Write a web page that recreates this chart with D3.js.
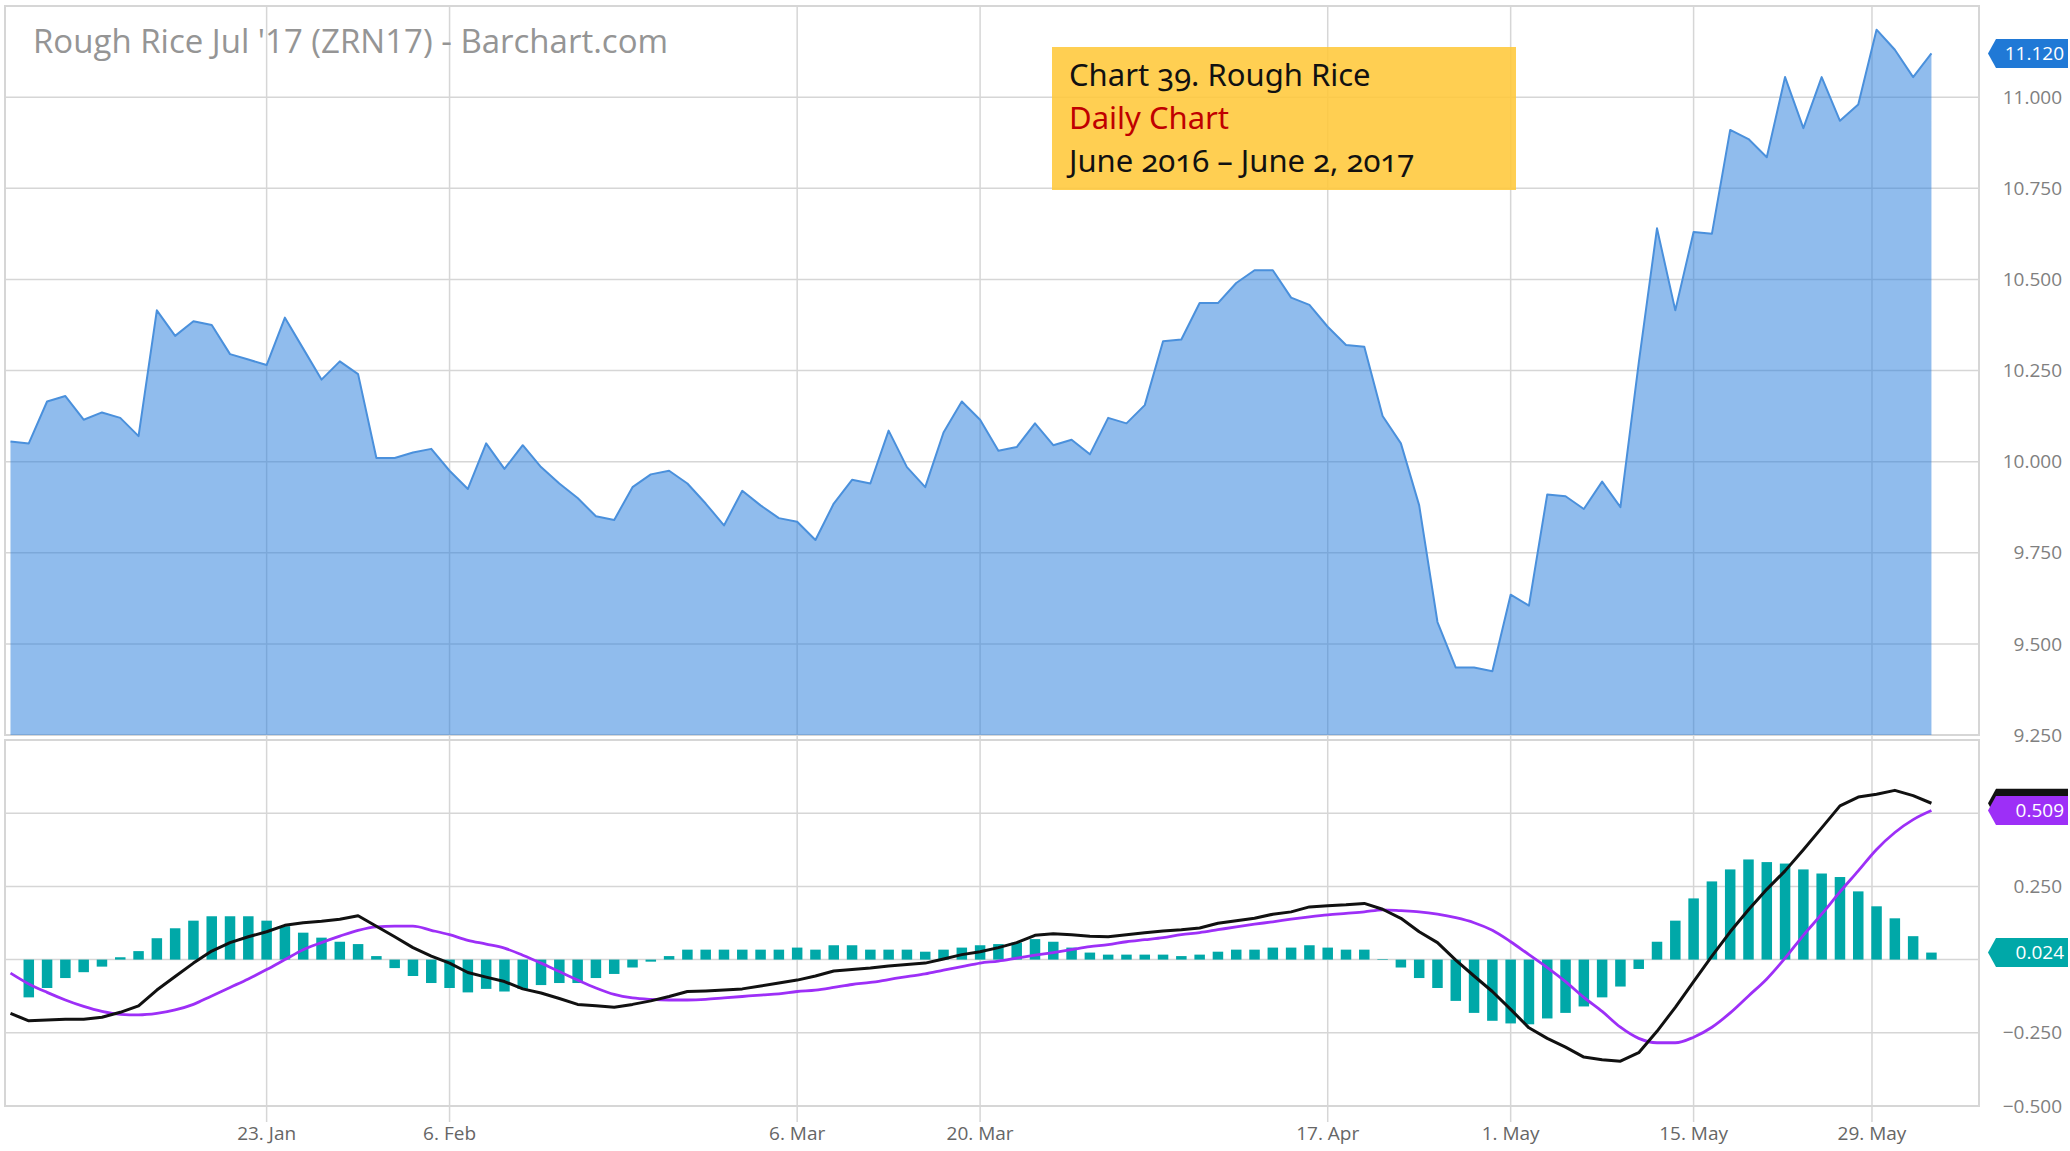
<!DOCTYPE html>
<html>
<head>
<meta charset="utf-8">
<script src="https://cdn.jsdelivr.net/npm/d3@7"></script>
<style>
  body { margin: 0; background: #fff; }
  svg { display: block; font-family: "Open Sans", sans-serif; }
</style>
</head>
<body>
<svg id="chart" width="2070" height="1151"></svg>
<script>
// trading days shown on the chart (Dec 30 2016 - Jun 2 2017)
const tradingDays = [
  "2016-12-30","2017-01-03","2017-01-04","2017-01-05","2017-01-06",
  "2017-01-09","2017-01-10","2017-01-11","2017-01-12","2017-01-13",
  "2017-01-17","2017-01-18","2017-01-19","2017-01-20",
  "2017-01-23","2017-01-24","2017-01-25","2017-01-26","2017-01-27",
  "2017-01-30","2017-01-31","2017-02-01","2017-02-02","2017-02-03",
  "2017-02-06","2017-02-07","2017-02-08","2017-02-09","2017-02-10",
  "2017-02-13","2017-02-14","2017-02-15","2017-02-16","2017-02-17",
  "2017-02-21","2017-02-22","2017-02-23","2017-02-24",
  "2017-02-27","2017-02-28","2017-03-01","2017-03-02","2017-03-03",
  "2017-03-06","2017-03-07","2017-03-08","2017-03-09","2017-03-10",
  "2017-03-13","2017-03-14","2017-03-15","2017-03-16","2017-03-17",
  "2017-03-20","2017-03-21","2017-03-22","2017-03-23","2017-03-24",
  "2017-03-27","2017-03-28","2017-03-29","2017-03-30","2017-03-31",
  "2017-04-03","2017-04-04","2017-04-05","2017-04-06","2017-04-07",
  "2017-04-10","2017-04-11","2017-04-12","2017-04-13",
  "2017-04-17","2017-04-18","2017-04-19","2017-04-20","2017-04-21",
  "2017-04-24","2017-04-25","2017-04-26","2017-04-27","2017-04-28",
  "2017-05-01","2017-05-02","2017-05-03","2017-05-04","2017-05-05",
  "2017-05-08","2017-05-09","2017-05-10","2017-05-11","2017-05-12",
  "2017-05-15","2017-05-16","2017-05-17","2017-05-18","2017-05-19",
  "2017-05-22","2017-05-23","2017-05-24","2017-05-25","2017-05-26",
  "2017-05-30","2017-05-31","2017-06-01","2017-06-02"
]

// daily close
const closes = [
  10.055,10.05,10.165,10.18,10.115,10.135,10.12,10.07,10.415,10.345,
  10.385,10.375,10.295,10.28,10.265,10.395,10.31,10.225,10.275,10.24,
  10.01,10.01,10.025,10.035,9.975,9.925,10.05,9.98,10.045,9.985,
  9.94,9.9,9.85,9.84,9.93,9.965,9.975,9.94,9.885,9.825,
  9.92,9.88,9.845,9.835,9.785,9.885,9.95,9.94,10.085,9.985,
  9.93,10.08,10.165,10.115,10.03,10.04,10.105,10.045,10.06,10.02,
  10.12,10.105,10.155,10.33,10.335,10.435,10.435,10.49,10.525,10.525,
  10.45,10.43,10.37,10.32,10.315,10.125,10.05,9.88,9.56,9.435,
  9.435,9.425,9.635,9.605,9.91,9.905,9.87,9.945,9.875,10.27,
  10.64,10.415,10.63,10.625,10.91,10.885,10.835,11.055,10.915,11.055,
  10.935,10.98,11.185,11.13,11.055,11.12
]

// MACD line, signal line, histogram
const macd = [
  -0.184,-0.209,-0.206,-0.204,-0.204,-0.197,-0.180,-0.158,-0.104,-0.058,
  -0.012,0.029,0.058,0.078,0.095,0.117,0.126,0.131,0.138,0.150,
  0.114,0.078,0.041,0.012,-0.012,-0.044,-0.060,-0.075,-0.100,-0.114,
  -0.133,-0.153,-0.158,-0.163,-0.153,-0.141,-0.126,-0.109,-0.107,-0.104,
  -0.100,-0.090,-0.080,-0.070,-0.056,-0.039,-0.034,-0.029,-0.022,-0.017,
  -0.012,0.002,0.017,0.027,0.041,0.058,0.083,0.088,0.085,0.080,
  0.078,0.085,0.092,0.098,0.102,0.108,0.124,0.133,0.141,0.155,
  0.163,0.180,0.184,0.187,0.192,0.172,0.141,0.095,0.058,-0.002,
  -0.056,-0.109,-0.170,-0.233,-0.269,-0.299,-0.333,-0.342,-0.347,-0.318,
  -0.245,-0.163,-0.075,0.012,0.095,0.170,0.240,0.303,0.375,0.450,
  0.525,0.555,0.565,0.578,0.560,0.534
]
const signal = [
  -0.046,-0.083,-0.112,-0.138,-0.160,-0.177,-0.187,-0.189,-0.184,-0.172,
  -0.153,-0.124,-0.095,-0.066,-0.034,0.000,0.034,0.058,0.080,0.100,
  0.112,0.114,0.114,0.100,0.085,0.066,0.053,0.039,0.015,-0.012,
  -0.041,-0.070,-0.097,-0.119,-0.131,-0.136,-0.138,-0.138,-0.136,-0.131,
  -0.126,-0.121,-0.117,-0.109,-0.104,-0.095,-0.085,-0.078,-0.068,-0.058,
  -0.049,-0.036,-0.024,-0.012,-0.005,0.005,0.015,0.024,0.034,0.044,
  0.051,0.061,0.068,0.075,0.085,0.092,0.102,0.112,0.121,0.129,
  0.138,0.146,0.153,0.158,0.163,0.170,0.167,0.163,0.155,0.143,
  0.126,0.100,0.061,0.017,-0.027,-0.075,-0.129,-0.177,-0.231,-0.269,
  -0.284,-0.284,-0.265,-0.231,-0.182,-0.124,-0.066,0.005,0.083,0.155,
  0.231,0.303,0.376,0.434,0.478,0.509
]
const histogram = [
  null,-0.129,-0.097,-0.063,-0.043,-0.024,0.008,0.029,0.073,0.107,
  0.133,0.148,0.148,0.148,0.133,0.114,0.092,0.075,0.061,0.053,
  0.012,-0.029,-0.056,-0.080,-0.097,-0.112,-0.100,-0.109,-0.100,-0.087,
  -0.080,-0.080,-0.063,-0.049,-0.027,-0.007,0.012,0.034,0.034,0.034,
  0.034,0.034,0.034,0.041,0.034,0.049,0.049,0.034,0.034,0.034,
  0.027,0.034,0.041,0.049,0.053,0.058,0.070,0.061,0.041,0.024,
  0.017,0.017,0.017,0.017,0.012,0.017,0.027,0.034,0.034,0.041,
  0.041,0.049,0.041,0.034,0.034,0.002,-0.027,-0.063,-0.097,-0.141,
  -0.182,-0.209,-0.218,-0.221,-0.201,-0.182,-0.160,-0.129,-0.092,-0.032,
  0.061,0.133,0.209,0.267,0.308,0.342,0.333,0.328,0.308,0.294,
  0.282,0.233,0.182,0.141,0.080,0.024
]

const xTickDates = ["2017-01-23","2017-02-06","2017-03-06","2017-03-20","2017-04-17","2017-05-01","2017-05-15","2017-05-29"]
const priceTicks = [9.25, 9.5, 9.75, 10, 10.25, 10.5, 10.75, 11]
const macdTicks = [-0.5, -0.25, 0, 0.25, 0.5]

const title = "Rough Rice Jul '17 (ZRN17) - Barchart.com"
const noteLines = [
  {text: "Chart 39. Rough Rice", color: "#111"},
  {text: "Daily Chart", color: "#c00000"},
  {text: "June 2016 \u2013 June 2, 2017", color: "#111"}
]

// layout
const left = 5, right = 1979
const priceTop = 6, priceBottom = 735
const macdTop = 740, macdBottom = 1106

const svg = d3.select("#chart")
const parse = d3.utcParse("%Y-%m-%d")
const days = tradingDays.map(parse)

// ordinal axis: one slot per trading day, calendar dates interpolated between them
const dayIndex = d3.scaleLinear().domain(days).range(days.map((d, i) => i))
const x = d3.scaleLinear().domain([-0.3, 107.6]).range([left, right])
const yPrice = d3.scaleLinear().domain([9.25, 11.25]).range([priceBottom, priceTop])
const yMacd = d3.scaleLinear().domain([-0.5, 0.75]).range([macdBottom, macdTop])

const gridColor = "#d6d6d6"

// vertical grid + tick marks
const xTicks = xTickDates.map(parse)
svg.append("g").selectAll("line").data(xTicks).join("line")
  .attr("x1", d => x(dayIndex(d))).attr("x2", d => x(dayIndex(d)))
  .attr("y1", priceTop).attr("y2", macdBottom + 16)
  .attr("stroke", gridColor).attr("stroke-width", 1.5)

svg.append("g").selectAll("text").data(xTicks).join("text")
  .attr("x", d => x(dayIndex(d))).attr("y", 1140)
  .attr("text-anchor", "middle")
  .attr("font-size", 19).attr("fill", "#666")
  .text(d3.utcFormat("%-d. %b"))

// horizontal grids
svg.append("g").selectAll("line").data(priceTicks).join("line")
  .attr("x1", left).attr("x2", right)
  .attr("y1", d => yPrice(d)).attr("y2", d => yPrice(d))
  .attr("stroke", gridColor).attr("stroke-width", 1.5)
svg.append("g").selectAll("line").data(macdTicks).join("line")
  .attr("x1", left).attr("x2", right)
  .attr("y1", d => yMacd(d)).attr("y2", d => yMacd(d))
  .attr("stroke", gridColor).attr("stroke-width", 1.5)

// pane frames
svg.append("rect").attr("x", left).attr("y", priceTop).attr("width", right - left).attr("height", priceBottom - priceTop)
  .attr("fill", "none").attr("stroke", gridColor).attr("stroke-width", 2)
svg.append("rect").attr("x", left).attr("y", macdTop).attr("width", right - left).attr("height", macdBottom - macdTop)
  .attr("fill", "none").attr("stroke", gridColor).attr("stroke-width", 2)

// price area
const area = d3.area()
  .x((d, i) => x(i))
  .y0(priceBottom)
  .y1(d => yPrice(d))
svg.append("path").datum(closes)
  .attr("d", area)
  .attr("fill", "#2b7fdc").attr("fill-opacity", 0.52)
svg.append("path").datum(closes)
  .attr("d", d3.line().x((d, i) => x(i)).y(d => yPrice(d)))
  .attr("fill", "none").attr("stroke", "#4a90dc").attr("stroke-width", 2)
  .attr("stroke-linejoin", "round")

// histogram
const barW = 10.5
svg.append("g").selectAll("rect").data(histogram.map((v, i) => ({v, i})).filter(d => d.v !== null)).join("rect")
  .attr("x", d => x(d.i) - barW / 2)
  .attr("width", barW)
  .attr("y", d => yMacd(Math.max(0, d.v)))
  .attr("height", d => Math.abs(yMacd(d.v) - yMacd(0)))
  .attr("fill", "#00a8a8")

const macdLine = d3.line().x((d, i) => x(i)).y(d => yMacd(d))
svg.append("path").datum(signal)
  .attr("d", macdLine.curve(d3.curveMonotoneX))
  .attr("fill", "none").attr("stroke", "#9d2ff7").attr("stroke-width", 2.8)
svg.append("path").datum(macd)
  .attr("d", d3.line().x((d, i) => x(i)).y(d => yMacd(d)))
  .attr("fill", "none").attr("stroke", "#111").attr("stroke-width", 3)
  .attr("stroke-linejoin", "round")

// last value badges
const last = arr => arr[arr.length - 1]
const badges = [
  {y: yPrice(last(closes)), text: d3.format(".3f")(last(closes)), color: "#2079d6"},
  {y: yMacd(last(macd)), text: "", color: "#111"},
  {y: yMacd(last(signal)), text: d3.format(".3f")(last(signal)), color: "#9d2ff7"},
  {y: yMacd(last(histogram)), text: d3.format(".3f")(last(histogram)), color: "#00a8a8"}
]

// y axis labels (hidden where a badge sits)
const fmt = d3.format(".3f")
const axisLabels = priceTicks.map(v => ({y: yPrice(v), t: fmt(v)}))
  .concat(macdTicks.map(v => ({y: yMacd(v), t: fmt(v)})))
  .filter(l => !badges.some(b => b.text && Math.abs(b.y - l.y) < 20))
svg.append("g").selectAll("text").data(axisLabels).join("text")
  .attr("x", 2062).attr("y", d => d.y).attr("dy", "0.35em")
  .attr("text-anchor", "end").attr("font-size", 19).attr("fill", "#808080")
  .text(d => d.t)

const bx0 = 1988, bx1 = 1996, bx2 = 2068, bh = 29
const bg = svg.append("g").selectAll("g").data(badges).join("g")
bg.append("path")
  .attr("d", d => `M${bx0},${d.y} L${bx1},${d.y - bh / 2} L${bx2},${d.y - bh / 2} L${bx2},${d.y + bh / 2} L${bx1},${d.y + bh / 2} Z`)
  .attr("fill", d => d.color)
bg.append("text")
  .attr("x", 2064).attr("y", d => d.y).attr("dy", "0.36em")
  .attr("text-anchor", "end").attr("font-size", 19).attr("fill", "#fff")
  .text(d => d.text)

// title
svg.append("text").attr("x", 33).attr("y", 53)
  .attr("font-size", 33).attr("fill", "#959595")
  .text(title)

// annotation box
svg.append("rect").attr("x", 1052).attr("y", 47).attr("width", 464).attr("height", 143)
  .attr("fill", "#ffc83a").attr("fill-opacity", 0.88)
svg.append("g").selectAll("text").data(noteLines).join("text")
  .attr("x", 1069).attr("y", (d, i) => 86 + i * 43)
  .attr("font-family", "'Noto Sans', sans-serif")
  .attr("font-size", 31)
  .style("font-variant-numeric", "oldstyle-nums")
  .attr("fill", d => d.color)
  .text(d => d.text)
</script>
</body>
</html>
